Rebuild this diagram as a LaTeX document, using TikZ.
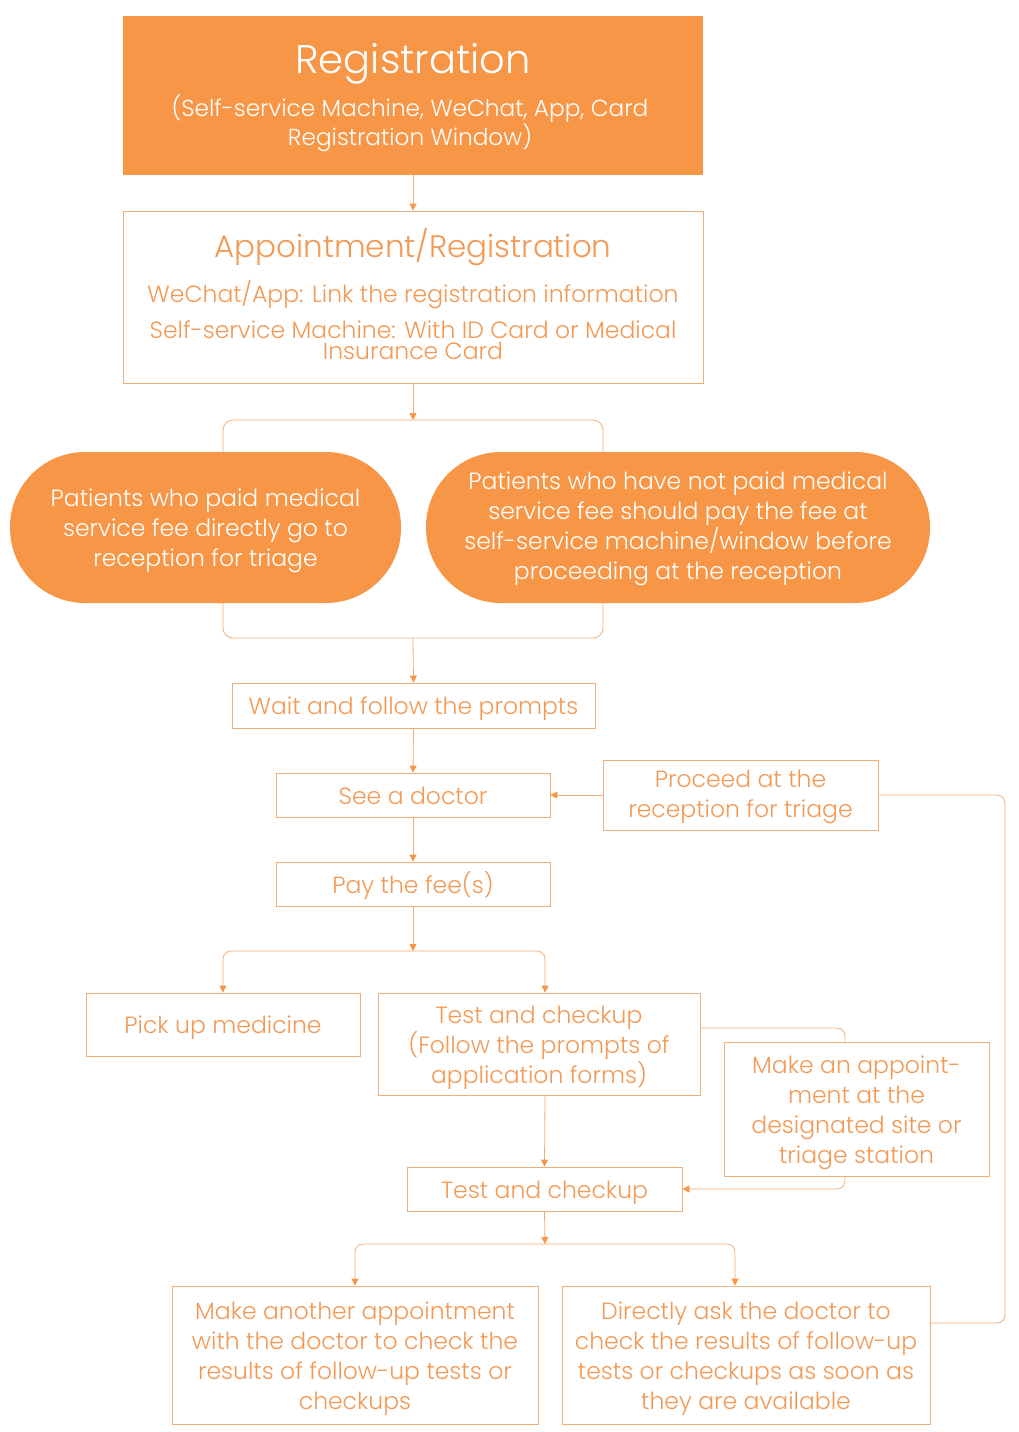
\documentclass[tikz,border=0pt]{standalone}
\usepackage{fontspec}
\setmainfont{Poppins Light}
\usetikzlibrary{arrows.meta,calc}
\definecolor{org}{HTML}{F79646}
\definecolor{orgtxt}{HTML}{F29A55}
\definecolor{orgln}{HTML}{F3AE78}
\newcommand{\sta}{\rule{0pt}{26pt}}
\newcommand{\stb}{\rule[-8pt]{0pt}{8pt}}
\newcommand{\stc}{\rule{0pt}{22pt}}
\begin{document}
\begin{tikzpicture}[x=1pt,y=-1pt,
  box/.style={draw=orgln, line width=0.8pt, fill=white, text=orgtxt, align=center, inner sep=0pt, font=\fontsize{23.5}{30}\selectfont},
  plainbox/.style={draw=orgln, line width=0.8pt, fill=white, inner sep=0pt},
  filledbox/.style={fill=org, inner sep=0pt},
  pill/.style={fill=org, text=white, rounded corners=75pt, align=center, inner sep=0pt, font=\fontsize{23.5}{30}\selectfont, minimum height=151pt},
  txt/.style={text=orgtxt, align=center, inner sep=0pt},
  conn/.style={draw=orgln, line width=0.8pt},
  arr/.style={conn, -{Triangle[width=7pt,length=7pt,color=org]}}
]
\useasboundingbox (0,0) rectangle (1018,1432);

% Registration
\node[filledbox, minimum width=580pt, minimum height=159pt] (reg) at (413,95.5) {};
\node[txt, text=white, font=\fontsize{40}{44}\selectfont] (regT) at (413,64) {Registration};
\node[txt, text=white, font=\fontsize{23.2}{29}\selectfont] (regS) at (410,123.5) {(Self-service Machine, WeChat, App, Card\\Registration Window)};

% Appointment
\node[plainbox, minimum width=580pt, minimum height=172pt] (appt) at (413,297) {};
\node[txt, font=\fontsize{31}{34}\selectfont] (apptT) at (413,247.5) {Appointment/Registration};
\node[txt, font=\fontsize{23.5}{30}\selectfont] (apptA) at (413,294.5) {WeChat/App: Link the registration information};
\node[txt, font=\fontsize{23.5}{21}\selectfont] (apptB) at (413,340) {Self-service Machine: With ID Card or Medical\\Insurance Card};

% bracket
\coordinate (brT) at (413,420);
\coordinate (brB) at (413,638);
\coordinate (brTL) at (223,420);
\coordinate (brBR) at (603,638);
\draw[conn, rounded corners=10pt] (brTL) rectangle (brBR);

% pills
\node[pill, minimum width=391pt] (paid) at (205.5,527.5) {\sta Patients who paid medical\\service fee directly go to\\reception for triage\stb};
\node[pill, minimum width=504pt] (notpaid) at (678,527.5) {\stc Patients who have not paid medical\\service fee should pay the fee at\\self-service machine/window before\\proceeding at the reception\stb};

% boxes
\node[box, minimum width=363pt, minimum height=45pt] (wait) at (413.5,705.5) {\sta Wait and follow the prompts\stb};
\node[box, minimum width=274pt, minimum height=44pt] (see) at (413,795) {\sta See a doctor\stb};
\node[box, minimum width=275pt, minimum height=70pt] (proceed) at (740.5,795) {\stc Proceed at the\\reception for triage\stb};
\node[box, minimum width=274pt, minimum height=44pt] (pay) at (413,884) {\sta Pay the fee(s)\stb};
\node[box, minimum width=274pt, minimum height=63pt] (pick) at (223,1024.5) {\sta Pick up medicine\stb};
\node[box, minimum width=322pt, minimum height=102pt] (test1) at (539,1044) {\sta Test and checkup\\(Follow the prompts of\\application forms)\stb};
\node[box, minimum width=265pt, minimum height=134pt] (make) at (856.5,1109) {\sta Make an appoint-\\ment at the\\designated site or\\triage station\stb};
\node[box, minimum width=275pt, minimum height=44pt] (test2) at (544.5,1189) {\sta Test and checkup\stb};
\node[box, minimum width=366pt, minimum height=138pt] (another) at (355,1355) {\sta Make another appointment\\with the doctor to check the\\results of follow-up tests or\\checkups\stb};
\node[box, minimum width=368pt, minimum height=138pt] (directly) at (746,1355) {\sta Directly ask the doctor to\\check the results of follow-up\\tests or checkups as soon as\\they are available\stb};

% connectors
\draw[arr] (reg.south) -- (appt.north);
\draw[arr] (appt.south) -- (brT);
\draw[arr] (brB) -- (wait.north);
\draw[arr] (wait.south) -- (see.north);
\draw[arr] (proceed.west) -- (see.east);
\draw[arr] (see.south) -- (pay.north);
\coordinate (sp1) at (413,951);
\draw[arr] (pay.south) -- (sp1);
\draw[arr, rounded corners=8pt] (sp1) -| (pick.north);
\draw[arr, rounded corners=8pt] (sp1) -| ([xshift=6pt]test1.north);
\draw[arr] ([xshift=6pt]test1.south) -- (test2.north);
\draw[conn, rounded corners=8pt] ([yshift=16pt]test1.east) -| ([xshift=-11.5pt]make.north);
\draw[arr, rounded corners=8pt] ([xshift=-11.5pt]make.south) |- (test2.east);
\coordinate (sp2) at (545,1244);
\draw[arr] (test2.south) -- (sp2);
\draw[arr, rounded corners=8pt] (sp2) -| (another.north);
\draw[arr, rounded corners=8pt] (sp2) -| ([xshift=-11pt]directly.north);
\coordinate (rr) at (1005,795);
\draw[conn, rounded corners=8pt] ([yshift=32pt]directly.east) -| (rr) -- (proceed.east);
\end{tikzpicture}
\end{document}
